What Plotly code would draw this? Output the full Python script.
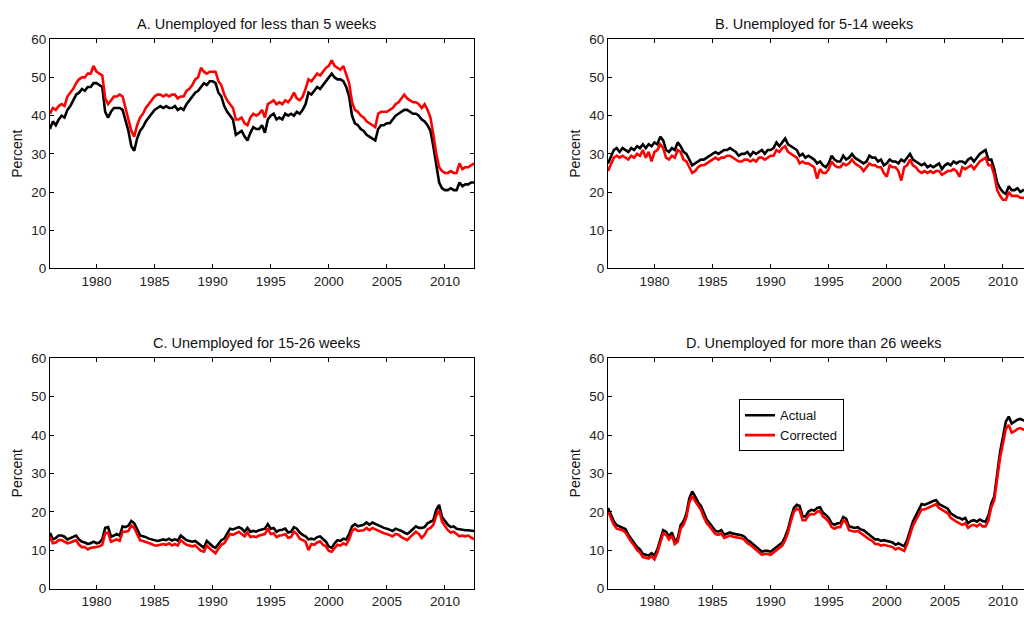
import numpy as np
import plotly.graph_objects as go

# Quarterly observation dates, 1976Q1 .. 2012Q3
dates = 1976 + 0.25 * np.arange(147)

# Panel A: unemployed for less than 5 weeks (percent of unemployed)
a_actual = [
    36.5, 38.5, 37.5, 39.0,  40.0, 39.5, 41.5, 42.5,  44.0, 45.5, 46.0, 47.0,
    46.5, 47.5, 47.5, 48.5,  48.5, 48.0, 47.5, 41.0,  39.5, 41.0, 42.0, 42.0,
    42.0, 41.5, 38.5, 36.0,  32.0, 30.8, 34.0, 36.0,  37.0, 38.5, 39.5, 40.5,
    41.5, 42.0, 42.5, 42.0,  42.5, 42.0, 42.0, 42.5,  41.5, 42.0, 41.5, 43.0,
    44.0, 45.0, 46.0, 46.5,  47.5, 48.5, 48.0, 49.0,  49.0, 48.5, 46.0, 45.0,
    42.5, 41.0, 40.0, 39.0,  35.0, 35.5, 36.0, 34.5,  33.5, 35.5, 37.0, 36.5,
    36.5, 37.5, 35.5, 39.0,  40.0, 40.5, 39.0, 39.5,  39.0, 40.5, 40.0, 40.5,
    40.0, 41.0, 40.5, 41.5,  43.0, 46.0, 45.5, 46.5,  47.5, 47.0, 48.0, 49.0,
    50.0, 51.0, 50.0, 49.5,  49.5, 49.0, 47.5, 45.0,  40.0, 38.0, 37.5, 36.5,
    36.0, 35.0, 34.5, 34.0,  33.5, 36.5, 37.5, 37.5,  38.0, 38.0, 39.0, 40.0,
    40.5, 41.0, 41.5, 41.5,  41.0, 40.5, 40.5, 40.0,  39.0, 38.5, 37.5, 36.0,
    32.0, 27.0, 22.5, 21.0,  20.5, 20.5, 21.0, 20.5,  20.5, 22.5, 21.5, 22.0,
    22.0, 22.5, 22.5,
]
a_corrected = [
    40.5, 42.0, 41.5, 42.5,  43.0, 42.5, 45.0, 46.0,  47.0, 48.5, 49.5, 50.0,
    50.0, 51.0, 51.0, 53.0,  51.5, 51.0, 50.5, 44.5,  43.0, 44.0, 45.0, 45.0,
    45.5, 45.0, 42.0, 39.5,  36.0, 34.5, 37.5, 39.5,  40.5, 42.0, 43.0, 44.0,
    45.0, 45.5, 45.5, 45.0,  45.5, 45.0, 45.5, 45.5,  44.5, 45.0, 45.0, 46.5,
    47.0, 48.0, 49.5, 50.0,  52.5, 51.5, 51.0, 51.5,  51.5, 51.5, 49.0, 48.0,
    45.5, 44.0, 43.0, 42.0,  39.0, 39.0, 39.5, 38.0,  37.5, 39.5, 40.5, 40.0,
    40.5, 41.5, 39.5, 43.0,  43.5, 44.0, 43.0, 43.5,  43.0, 44.0, 43.5, 44.5,
    46.0, 44.5, 44.0, 45.0,  47.0, 49.5, 49.0, 50.0,  51.0, 50.5, 51.5, 52.5,
    53.0, 54.5, 53.0, 52.5,  52.0, 53.0, 50.5, 48.5,  43.5, 41.5, 41.0, 40.0,
    39.5, 38.5, 38.0, 37.5,  37.0, 40.5, 41.0, 41.0,  41.0, 41.5, 42.0, 43.0,
    43.5, 44.5, 45.5, 44.5,  44.0, 43.5, 43.5, 43.0,  42.0, 43.0, 41.5, 39.5,
    35.0, 30.0, 26.5, 25.5,  25.0, 25.0, 25.5, 25.0,  25.0, 27.5, 26.0, 26.5,
    26.5, 27.0, 27.5,
]

# Panel B: unemployed for 5-14 weeks
b_actual = [
    27.5, 29.5, 31.0, 31.5,  30.5, 31.5, 31.0, 30.5,  31.5, 31.0, 32.0, 31.5,
    32.5, 31.5, 32.5, 32.0,  33.0, 32.5, 34.5, 33.5,  31.0, 30.5, 31.5, 31.0,
    33.0, 32.0, 30.5, 30.0,  28.5, 27.0, 27.5, 28.0,  28.5, 28.5, 29.0, 29.5,
    30.0, 30.5, 30.0, 30.5,  31.0, 31.0, 31.5, 31.0,  30.5, 29.5, 30.0, 30.0,
    30.5, 29.5, 30.5, 30.0,  30.5, 31.0, 30.0, 31.0,  31.0, 31.5, 33.0, 32.0,
    33.0, 34.0, 32.5, 32.0,  31.5, 31.0, 29.5, 30.0,  29.0, 29.5, 29.0, 28.5,
    27.5, 28.0, 27.0, 26.5,  27.5, 29.5, 28.5, 28.0,  28.0, 29.5, 28.5, 29.0,
    30.0, 29.0, 28.5, 28.0,  27.5, 28.0, 29.5, 29.0,  29.0, 28.0, 28.5, 27.0,
    27.5, 28.5, 28.0, 28.0,  27.5, 28.5, 28.0, 29.0,  30.0, 28.5, 28.0, 27.5,
    27.0, 27.5, 26.5, 27.0,  26.5, 27.0, 27.5, 26.0,  27.0, 27.5, 27.0, 28.0,
    27.5, 28.0, 28.0, 27.5,  28.5, 29.0, 28.0, 29.0,  30.0, 30.5, 31.0, 28.5,
    28.5, 26.0, 22.5, 21.0,  20.0, 19.5, 21.5, 20.5,  20.5, 21.0, 20.0, 20.5,
    20.5, 20.5, 20.5,
]
b_corrected = [
    25.5, 27.5, 29.0, 29.5,  29.0, 29.5, 29.0, 28.5,  29.5, 29.0, 30.0, 29.5,
    31.0, 29.0, 30.5, 28.0,  30.5, 31.0, 32.5, 31.5,  29.0, 28.5, 29.5, 29.0,
    31.0, 30.5, 28.5, 28.0,  26.5, 25.0, 25.5, 26.5,  27.0, 27.0, 27.5, 28.0,
    28.5, 29.0, 28.5, 29.0,  29.0, 29.5, 29.5, 29.0,  28.5, 28.0, 28.0, 28.5,
    28.5, 28.0, 28.5, 28.0,  29.0, 29.0, 28.5, 29.0,  29.5, 29.5, 31.0, 30.5,
    31.5, 32.0, 30.5, 30.0,  29.5, 29.0, 27.5, 28.0,  27.5, 27.5, 27.0, 26.5,
    23.5, 26.0, 25.0, 25.0,  26.0, 28.0, 27.0, 26.5,  26.5, 27.5, 27.0, 27.5,
    28.5, 27.5, 27.0, 26.5,  25.5, 26.5, 27.5, 27.0,  27.0, 26.5, 26.5, 25.0,
    24.0, 27.0, 26.5, 26.5,  25.5, 23.0, 26.5, 27.0,  28.5, 27.0, 26.5, 25.5,
    25.0, 25.5, 25.0, 25.5,  25.0, 25.5, 25.5, 24.5,  25.0, 25.5, 25.5, 26.0,
    25.5, 24.0, 26.5, 26.0,  26.5, 27.0, 26.0, 27.0,  28.0, 28.5, 29.0, 27.0,
    27.0, 24.5, 20.5, 19.0,  18.0, 18.0, 20.0, 19.0,  19.0, 19.0, 18.5, 18.5,
    18.5, 18.5, 18.5,
]

# Panel C: unemployed for 15-26 weeks
c_actual = [
    14.5, 12.8, 13.2, 13.8,  13.8, 13.5, 12.8, 13.2,  13.5, 13.8, 12.8, 12.2,
    12.0, 11.6, 11.8, 12.2,  11.8, 12.0, 12.8, 15.8,  16.0, 13.5, 13.8, 14.2,
    13.8, 16.2, 16.0, 16.4,  17.6, 17.0, 15.5, 13.8,  13.6, 13.4, 13.0, 12.8,
    12.6, 12.4, 12.6, 12.8,  12.6, 13.0, 12.5, 12.8,  12.5, 13.8, 13.2, 12.6,
    12.4, 12.2, 12.4, 11.8,  11.0, 10.6, 12.4, 11.6,  11.0, 10.6, 11.6, 12.6,
    13.0, 14.2, 15.6, 15.4,  15.8, 16.0, 15.6, 14.8,  15.8, 14.8, 15.0, 14.8,
    15.2, 15.4, 15.6, 16.8,  15.6, 15.8, 14.8, 15.2,  15.3, 15.6, 14.6, 14.8,
    16.0, 15.6, 14.6, 14.0,  13.6, 12.8, 13.0, 12.8,  13.4, 13.6, 12.8, 12.2,
    11.0, 10.6, 11.8, 12.6,  12.4, 13.0, 12.8, 14.2,  16.2, 16.8, 16.2, 16.4,
    16.6, 17.2, 16.6, 17.2,  16.8, 16.4, 16.0, 15.8,  15.6, 15.4, 15.0, 15.6,
    15.4, 15.0, 14.6, 14.2,  14.8, 15.6, 16.2, 15.8,  15.8, 16.0, 17.0, 17.4,
    17.8, 20.5, 21.8, 18.6,  17.6, 16.6, 16.0, 16.2,  15.6, 15.4, 15.4, 15.2,
    15.2, 15.0, 15.0,
]
c_corrected = [
    13.5, 11.8, 12.0, 12.6,  12.6, 12.2, 11.8, 12.0,  12.4, 12.6, 11.4, 10.8,
    10.8, 10.2, 10.6, 10.8,  10.8, 11.0, 11.4, 14.4,  14.6, 12.2, 12.4, 12.8,
    12.4, 14.8, 14.8, 15.0,  16.4, 15.8, 14.2, 12.6,  12.4, 12.2, 11.8, 11.6,
    11.2, 11.2, 11.4, 11.6,  11.4, 11.8, 11.2, 11.6,  11.2, 12.6, 12.0, 11.4,
    11.2, 11.0, 11.2, 10.6,   9.8,  9.6, 11.2, 10.4,   9.8,  9.2, 10.4, 11.4,
    11.8, 13.0, 14.2, 14.0,  14.4, 14.8, 14.2, 13.6,  14.6, 13.4, 13.6, 13.4,
    13.8, 14.0, 14.2, 15.6,  14.2, 14.4, 13.4, 13.8,  13.9, 14.2, 13.2, 13.4,
    14.8, 14.2, 13.0, 12.6,  12.2, 10.0, 11.6, 11.4,  12.0, 12.3, 11.4, 11.0,
     9.8,  9.6, 10.6, 11.4,  11.2, 11.8, 11.4, 12.8,  15.0, 15.6, 15.0, 15.2,
    15.2, 15.8, 15.2, 15.8,  15.4, 15.0, 14.6, 14.4,  14.2, 14.0, 13.6, 14.2,
    14.0, 13.4, 13.0, 12.6,  13.4, 14.2, 14.8, 14.2,  13.2, 14.0, 15.4, 15.8,
    16.6, 19.0, 20.4, 17.4,  16.4, 15.2, 14.6, 14.8,  14.2, 13.6, 13.8, 13.6,
    13.8, 13.4, 12.8,
]

# Panel D: unemployed for more than 26 weeks
d_actual = [
    21.0, 19.0, 17.5, 16.5,  16.2, 16.0, 15.5, 14.0,  13.0, 12.0, 10.8, 10.2,
     9.0,  8.8,  8.6,  9.2,   8.6, 10.2, 12.5, 15.2,  14.8, 13.6, 14.6, 12.4,
    13.0, 16.5, 17.5, 19.5,  23.5, 25.3, 24.0, 22.5,  21.5, 19.5, 18.0, 17.0,
    16.0, 15.0, 14.8, 15.2,  14.0, 14.4, 14.6, 14.3,  14.2, 14.0, 13.9, 13.5,
    12.6, 12.2, 11.6, 11.0,  10.2,  9.6,  9.8,  9.8,   9.6, 10.2, 10.8, 11.2,
    12.0, 13.5, 15.5, 18.5,  21.0, 21.8, 21.5, 18.8,  18.8, 20.0, 20.5, 20.3,
    21.0, 21.2, 19.8, 19.2,  18.4, 17.0, 16.6, 17.0,  17.0, 18.6, 18.2, 16.2,
    16.0, 15.8, 16.0, 15.4,  15.2, 14.6, 14.0, 13.6,  12.8, 12.8, 12.4, 12.6,
    12.4, 12.0, 12.0, 11.4,  11.8, 11.4, 11.0, 12.6,  15.0, 17.5, 19.0, 20.5,
    22.0, 21.8, 22.2, 22.5,  22.8, 23.0, 22.0, 21.6,  21.2, 20.8, 19.6, 19.0,
    18.6, 18.4, 18.0, 18.4,  17.0, 17.6, 17.8, 17.4,  18.0, 17.6, 17.4, 19.0,
    22.2, 24.0, 30.5, 35.5,  39.5, 43.5, 44.8, 43.0,  43.5, 44.0, 44.2, 43.8,
    44.0, 44.4, 44.2,
]
d_corrected = [
    20.2, 18.2, 16.6, 15.6,  15.4, 15.2, 14.6, 13.2,  12.2, 11.2, 10.0,  9.4,
     8.2,  8.0,  7.8,  8.4,   7.6,  9.4, 11.6, 14.4,  14.0, 12.8, 13.8, 11.6,
    12.2, 15.6, 16.6, 18.6,  22.5, 24.1, 22.8, 21.5,  20.5, 18.6, 17.0, 16.2,
    15.2, 14.2, 14.0, 14.4,  13.2, 13.6, 13.8, 13.5,  13.4, 13.2, 13.1, 12.7,
    11.8, 11.4, 10.8, 10.2,   9.4,  8.8,  9.0,  9.0,   8.8,  9.4, 10.0, 10.4,
    11.2, 12.6, 14.6, 17.6,  20.0, 20.8, 20.4, 17.8,  17.8, 19.0, 19.4, 19.3,
    20.0, 20.2, 18.8, 18.2,  17.4, 16.0, 15.6, 16.0,  16.0, 17.8, 17.2, 15.2,
    15.0, 14.8, 15.0, 14.4,  14.0, 13.4, 12.8, 12.4,  11.6, 11.6, 11.2, 11.4,
    11.2, 10.8, 10.8, 10.2,  10.6, 10.2,  9.8, 11.6,  14.0, 16.4, 17.8, 19.2,
    20.6, 20.6, 21.0, 21.4,  21.8, 22.0, 21.0, 20.6,  20.2, 19.6, 18.4, 17.8,
    17.4, 17.0, 16.6, 17.0,  15.8, 16.4, 16.6, 16.2,  16.8, 16.2, 16.2, 17.8,
    21.2, 23.0, 29.2, 34.0,  37.8, 41.6, 42.6, 40.6,  41.0, 41.6, 41.8, 41.4,
    41.6, 42.0, 41.8,
]

titles = [
    "A. Unemployed for less than 5 weeks",
    "B. Unemployed for 5-14 weeks",
    "C. Unemployed for 15-26 weeks",
    "D. Unemployed for more than 26 weeks",
]
series_names = ["Actual", "Corrected"]
year_ticks = [1980, 1985, 1990, 1995, 2000, 2005, 2010]
pct_ticks = [0, 10, 20, 30, 40, 50, 60]

W, H = 1024, 618
FONT = "Liberation Sans, Arial, Helvetica, sans-serif"

# Panel placement in pixels: (left, right, top, bottom)
boxes = [
    (50, 474, 33, 268),
    (608, 1024, 33, 268),
    (50, 474, 360, 596),
    (608, 1024, 360, 596),
]
# The right-hand panels run off the page edge
x_ranges = [
    [1976.0, 2012.5],
    [1976.0, 1976.0 + (1024 - 608) / 424 * 36.5],
    [1976.0, 2012.5],
    [1976.0, 1976.0 + (1024 - 608) / 424 * 36.5],
]

panels = [
    (a_actual, a_corrected),
    (b_actual, b_corrected),
    (c_actual, c_corrected),
    (d_actual, d_corrected),
]

fig = go.Figure()
annotations = []

for i, ((act, cor), (l, r, t, b)) in enumerate(zip(panels, boxes)):
    n = i + 1
    xa = "x" if n == 1 else f"x{n}"
    ya = "y" if n == 1 else f"y{n}"
    fig.add_trace(go.Scatter(
        x=dates, y=act, xaxis=xa, yaxis=ya, mode="lines",
        line=dict(color="black", width=2.6), name=series_names[0],
        showlegend=(n == 4), legendrank=1,
    ))
    fig.add_trace(go.Scatter(
        x=dates, y=cor, xaxis=xa, yaxis=ya, mode="lines",
        line=dict(color="#ff0000", width=2.6), name=series_names[1],
        showlegend=(n == 4), legendrank=2,
    ))

    right_side = n in (2, 4)
    xkey = "xaxis" if n == 1 else f"xaxis{n}"
    ykey = "yaxis" if n == 1 else f"yaxis{n}"
    fig.layout[xkey] = dict(
        domain=[l / W, r / W], anchor=ya, range=x_ranges[i],
        tickvals=year_ticks, ticks="inside", ticklen=4, tickcolor="black",
        showline=True, linecolor="black", linewidth=1, mirror="ticks",
        showgrid=False, zeroline=False,
        tickfont=dict(family=FONT, size=13.5, color="#222"),
    )
    fig.layout[ykey] = dict(
        domain=[1 - b / H, 1 - t / H], anchor=xa, range=[0, 60],
        tickvals=pct_ticks, ticks="inside", ticklen=4, tickcolor="black",
        showline=True, linecolor="black", linewidth=1,
        mirror=False if right_side else "ticks",
        showgrid=False, zeroline=False,
        tickfont=dict(family=FONT, size=13.5, color="#222"),
    )

    # Panel title
    annotations.append(dict(
        text=titles[i], xref="paper", yref="paper",
        x=((l + (1032 if right_side else r)) / 2 - 6) / W,
        y=1 - (t - 16) / H, xanchor="center", yanchor="middle",
        showarrow=False, font=dict(family=FONT, size=14.5, color="#111"),
    ))
    # Y-axis label
    annotations.append(dict(
        text="Percent", xref="paper", yref="paper",
        x=(l - 33) / W, y=1 - ((t + b) / 2) / H, textangle=-90,
        xanchor="center", yanchor="middle", showarrow=False,
        font=dict(family=FONT, size=14, color="#111"),
    ))

fig.update_layout(
    width=W, height=H,
    margin=dict(l=0, r=0, t=0, b=0),
    paper_bgcolor="white", plot_bgcolor="white",
    annotations=annotations,
    legend=dict(
        x=739 / W, y=1 - 402 / H, xanchor="left", yanchor="top",
        bordercolor="black", borderwidth=1, bgcolor="white",
        font=dict(family=FONT, size=13, color="#111"),
        tracegroupgap=0, itemwidth=30,
    ),
    showlegend=True,
)

fig.write_html("out.html")
